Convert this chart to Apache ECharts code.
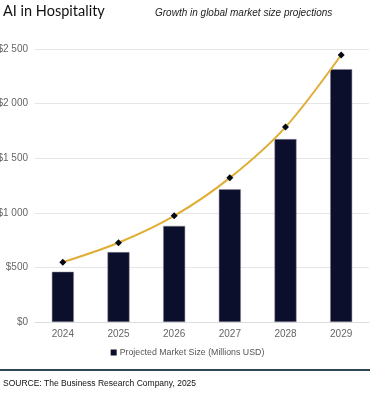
<!DOCTYPE html>
<html>
<head>
<meta charset="utf-8">
<script src="https://cdn.jsdelivr.net/npm/echarts@6/dist/echarts.min.js"></script>
<style>
  html, body { margin: 0; padding: 0; background: #fff; }
  #chart { width: 375px; height: 396px; }
</style>
</head>
<body>
<div id="chart"></div>
<script>
const years = ["2024", "2025", "2026", "2027", "2028", "2029"]
const marketSize = [460, 640, 880, 1215, 1675, 2315]
const trendLine = [548, 726, 972, 1320, 1785, 2445]
const yTicks = [0, 500, 1000, 1500, 2000, 2500]

const chart = echarts.init(document.getElementById("chart"))

// "$2 500" style labels
function moneyLabel(value) {
  const s = String(value)
  if (s.length > 3) {
    return "$" + s.slice(0, s.length - 3) + " " + s.slice(s.length - 3)
  }
  return "$" + s
}

chart.setOption({
  animation: false,
  textStyle: { fontFamily: "Liberation Sans, Arial, sans-serif" },
  title: [
    {
      text: "AI in Hospitality",
      left: 3,
      top: 4,
      padding: 0,
      textStyle: { fontFamily: "Lato, sans-serif", fontSize: 14.5, fontWeight: "normal", color: "#111" }
    },
    {
      text: "Growth in global market size projections",
      left: 155,
      top: 8,
      padding: 0,
      textStyle: { fontFamily: "Liberation Sans, Arial, sans-serif", fontSize: 10, fontStyle: "italic", fontWeight: "normal", color: "#222" }
    },
    {
      text: "SOURCE: The Business Research Company, 2025",
      left: 3,
      top: 379,
      padding: 0,
      textStyle: { fontFamily: "Liberation Sans, Arial, sans-serif", fontSize: 8.5, fontWeight: "normal", color: "#111" }
    }
  ],
  graphic: [
    {
      type: "rect",
      shape: { x: 0, y: 369, width: 370, height: 2 },
      style: { fill: "#2e4556" }
    }
  ],
  legend: {
    data: [{ name: "Projected Market Size (Millions USD)", icon: "rect", itemStyle: { borderWidth: 0 } }],
    top: 348,
    left: "center",
    padding: 0,
    itemWidth: 6,
    itemHeight: 6,
    itemGap: 4,
    textStyle: { fontSize: 8.8, color: "#555", padding: [0, 0, 0, -2] }
  },
  grid: { left: 35, right: 6, top: 49, bottom: 74, outerBoundsMode: "none" },
  xAxis: {
    type: "category",
    data: years,
    axisLine: { lineStyle: { color: "#ddd" } },
    axisTick: { show: false },
    axisLabel: { color: "#666", fontSize: 10, margin: 7 }
  },
  yAxis: {
    type: "value",
    min: yTicks[0],
    max: yTicks[yTicks.length - 1],
    interval: 500,
    axisLine: { show: false },
    axisTick: { show: false },
    splitLine: { lineStyle: { color: "#e6e6e6" } },
    axisLabel: { color: "#666", fontSize: 10, margin: 7, formatter: moneyLabel }
  },
  series: [
    {
      name: "Projected Market Size (Millions USD)",
      type: "bar",
      data: marketSize,
      barWidth: 22,
      itemStyle: { color: "#0c0f2c", borderColor: "#8a8a9a", borderWidth: 0.5 }
    },
    {
      name: "Trend",
      type: "line",
      data: trendLine,
      smooth: 0.3,
      symbol: "diamond",
      symbolSize: 7,
      lineStyle: { color: "#e0ad35", width: 2 },
      itemStyle: { color: "#050a14" },
      z: 5
    }
  ]
})
</script>
</body>
</html>
